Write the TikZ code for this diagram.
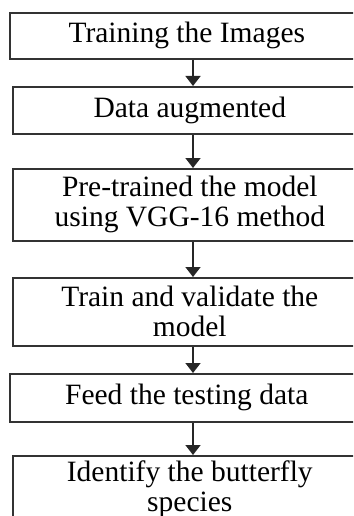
\documentclass[tikz,border=0pt]{standalone}
\usepackage{fontspec}
\setmainfont{Liberation Serif}
\usetikzlibrary{arrows.meta}
\begin{document}
\begin{tikzpicture}[x=1pt,y=-1pt,
  box/.style={draw=black!80,line width=1.6pt,minimum width=354pt,inner sep=0pt,
    align=center,anchor=north west,font=\fontsize{29.5}{30}\selectfont},
  flow/.style={draw=black!85,line width=1.6pt,-{Triangle[width=15pt,length=10pt]}}]
\useasboundingbox (0,0) rectangle (353,516);
\clip (0,0) rectangle (353,516);
\coordinate (axis) at (193,0);
% the boxes
\node[box,minimum height=46pt] (train) at (9,12) {Training the Images};
\node[box,minimum height=47pt] (augment) at (12,86) {Data augmented};
\node[box,minimum height=72pt] (pretrain) at (12,168) {Pre-trained the model\\using VGG-16 method};
\node[box,minimum height=68pt] (validate) at (12,277) {Train and validate the\\model};
\node[box,minimum height=48pt] (feed) at (9,373) {Feed the testing data};
\node[box,minimum height=66pt] (identify) at (12,455) {Identify the butterfly\\species};
% the arrows
\draw[flow] (train.south -| axis) -- (augment.north -| axis);
\draw[flow] (augment.south -| axis) -- (pretrain.north -| axis);
\draw[flow] (pretrain.south -| axis) -- (validate.north -| axis);
\draw[flow] (validate.south -| axis) -- (feed.north -| axis);
\draw[flow] (feed.south -| axis) -- (identify.north -| axis);
\end{tikzpicture}
\end{document}
